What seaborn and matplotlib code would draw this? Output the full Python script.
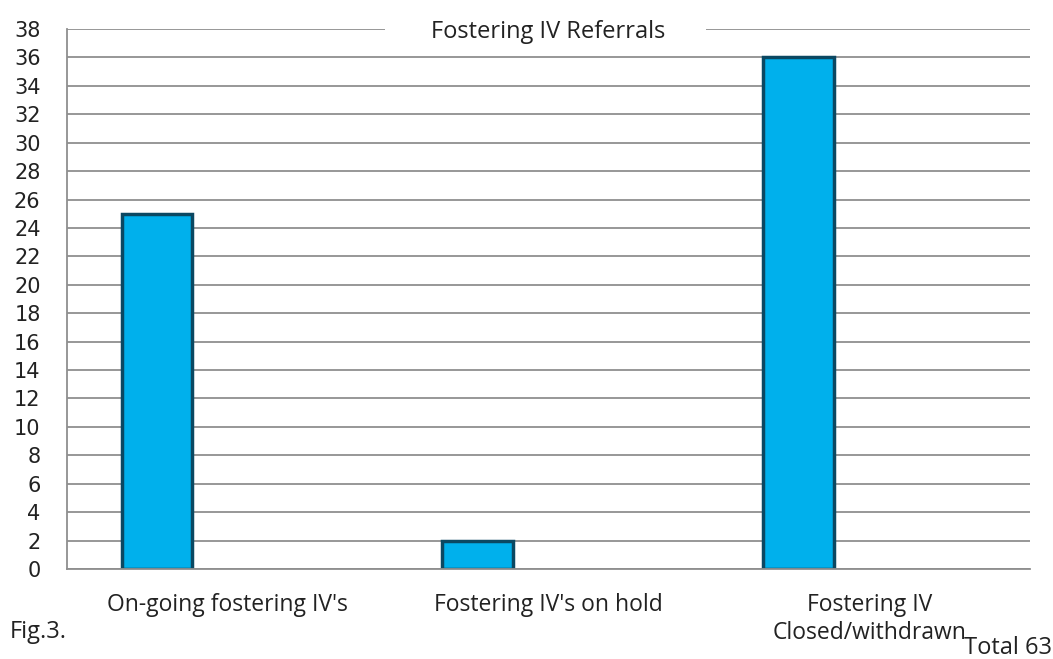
"""
Fostering IV Referrals - bar chart (Fig.3)
"""

import numpy as np
import pandas as pd
import matplotlib
matplotlib.use('Agg')
import matplotlib.pyplot as plt
import seaborn as sns

# Data
categories = ["On-going fostering IV's", "Fostering IV's on hold", "Fostering IV\nClosed/withdrawn"]
referrals = [25, 2, 36]
series_levels = ['Referrals', 'Empty 1', 'Empty 2']
y_ticks = list(range(0, 39, 2))
total_text = 'Total 63'
fig_text = 'Fig.3.'
title_text = 'Fostering IV Referrals'

sns.set_style("white")
plt.rcParams['font.family'] = ['DejaVu Sans']
text_font = ['Open Sans', 'DejaVu Sans']

# Excel-style clustered layout: the first series holds the data, the other two slots are empty
rows = []
for cat, val in zip(categories, referrals):
    rows.append({'Category': cat, 'Series': series_levels[0], 'Referrals': val})
    for s in series_levels[1:]:
        rows.append({'Category': cat, 'Series': s, 'Referrals': np.nan})
df = pd.DataFrame(rows)

fig = plt.figure(figsize=(10.53, 6.59), dpi=100)
ax = fig.add_axes([0.0636, 0.1366, 0.9144, 0.8194])

sns.barplot(data=df, x='Category', y='Referrals', hue='Series',
            hue_order=series_levels, order=categories, width=0.66,
            palette=['#00b0ec'] * 3, saturation=1,
            edgecolor='#0b4862', linewidth=2.5, legend=False, ax=ax)

# Gridlines
ax.set_ylim(0, 38)
ax.set_xlim(-0.5, 2.5)
ax.set_yticks(y_ticks)
ax.yaxis.grid(True, color='#8f8f8f', linewidth=1.3)
ax.set_axisbelow(True)

for side in ['top', 'right']:
    ax.spines[side].set_visible(False)
ax.spines['left'].set_color('#8f8f8f')
ax.spines['bottom'].set_color('#8f8f8f')
ax.spines['left'].set_linewidth(1.3)
ax.spines['bottom'].set_linewidth(1.3)

ax.set_xlabel('')
ax.set_ylabel('')
ax.tick_params(axis='y', length=6, color='#8f8f8f', labelsize=15,
               labelcolor='#222222', pad=13)
ax.tick_params(axis='x', which='major', length=0, labelsize=16.5,
               labelcolor='#222222', pad=17)
ax.set_xticks([-0.5, 0.5, 1.5, 2.5], minor=True)
ax.tick_params(axis='x', which='minor', length=7, color='#8f8f8f', direction='out')
for lbl in ax.get_xticklabels():
    lbl.set_family(text_font)
    lbl.set_multialignment('center')
    lbl.set_linespacing(1.25)

# Title sitting on the top gridline, with a gap cut into the line
ax.hlines(38, 0.49, 1.49, color='white', linewidth=4, zorder=4, clip_on=False)
ax.text(1.0, 37.8, title_text, ha='center', va='center', fontsize=17,
        family=text_font, color='#222222', zorder=5)

fig.text(0.009, 0.041, fig_text, ha='left', va='center', fontsize=17,
         family=text_font, color='#222222')
fig.text(0.999, 0.017, total_text, ha='right', va='center', fontsize=17,
         family=text_font, color='#222222')

fig.savefig('out.png', dpi=100, facecolor='white')
